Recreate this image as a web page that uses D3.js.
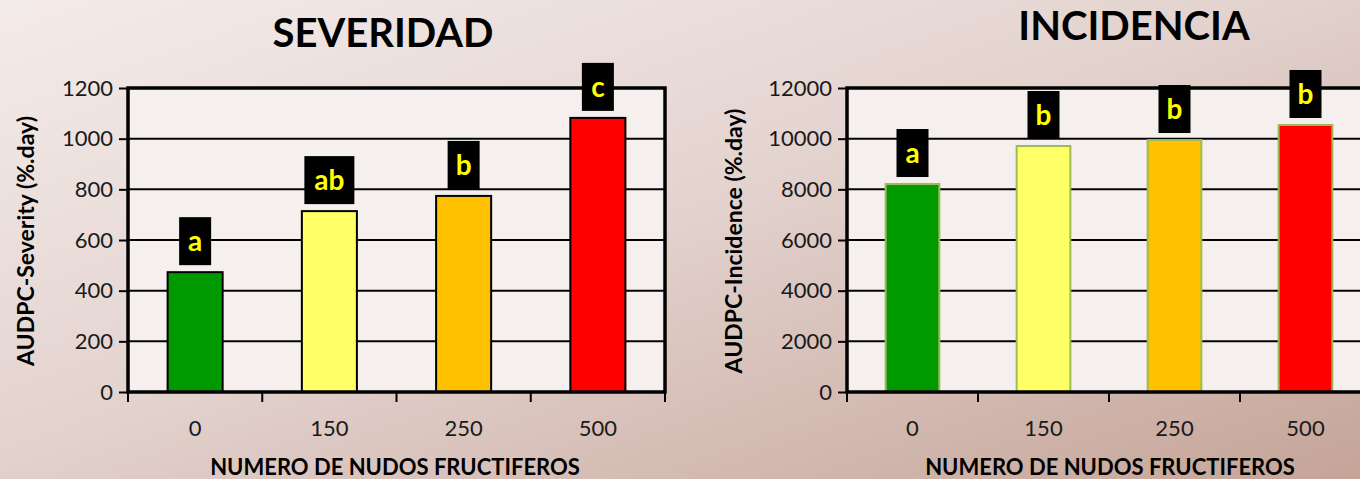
<!DOCTYPE html>
<html>
<head>
<meta charset="utf-8">
<script src="https://cdn.jsdelivr.net/npm/d3@7"></script>
<style>
  body { margin: 0; overflow: hidden; }
  svg { display: block; }
</style>
</head>
<body>
<script>
var categories = ["0", "150", "250", "500"];
var severity = [473, 714, 774, 1082];
var incidence = [8210, 9710, 9947, 10540];
var sevLetters = ["a", "ab", "b", "c"];
var incLetters = ["a", "b", "b", "b"];
var sevTicks = [0, 200, 400, 600, 800, 1000, 1200];
var incTicks = [0, 2000, 4000, 6000, 8000, 10000, 12000];
var barColors = ["#009900", "#ffff66", "#ffc000", "#ff0000"];

var w = 1360, h = 479;
var font = "Lato, 'Open Sans', sans-serif";

var svg = d3.select("body").append("svg")
    .attr("width", w)
    .attr("height", h);

var defs = svg.append("defs");
var grad = defs.append("linearGradient")
    .attr("id", "bg")
    .attr("x1", "0%").attr("y1", "0%")
    .attr("x2", "100%").attr("y2", "100%");
grad.append("stop").attr("offset", "0%").attr("stop-color", "#f4ecea");
grad.append("stop").attr("offset", "45%").attr("stop-color", "#e4d4d0");
grad.append("stop").attr("offset", "100%").attr("stop-color", "#c5a498");

svg.append("rect")
    .attr("width", w).attr("height", h)
    .attr("fill", "url(#bg)");

function drawChart(opt) {
    var g = svg.append("g");
    var x = d3.scaleBand()
        .domain(categories)
        .range([opt.left, opt.right])
        .paddingInner(0.59)
        .paddingOuter(0.295);
    var xb = d3.scaleBand()
        .domain(categories)
        .range([opt.left, opt.right]);
    var y = d3.scaleLinear()
        .domain([0, opt.max])
        .range([392, 88]);

    // plot area
    g.append("rect")
        .attr("x", opt.left).attr("y", 88)
        .attr("width", opt.right - opt.left).attr("height", 304)
        .attr("fill", "#f5f0ee");

    // gridlines
    g.selectAll(".grid")
        .data(opt.ticks.slice(1))
        .enter().append("line")
        .attr("x1", opt.left).attr("x2", opt.right)
        .attr("y1", function(d) { return y(d); })
        .attr("y2", function(d) { return y(d); })
        .attr("stroke", "#000")
        .attr("stroke-width", 2);

    // bars
    g.selectAll(".bar")
        .data(opt.values)
        .enter().append("rect")
        .attr("x", function(d, i) { return x(categories[i]); })
        .attr("y", function(d) { return y(d); })
        .attr("width", x.bandwidth())
        .attr("height", function(d) { return y(0) - y(d); })
        .attr("fill", function(d, i) { return barColors[i]; })
        .attr("stroke", opt.barStroke)
        .attr("stroke-width", 2);

    // plot border
    g.append("rect")
        .attr("x", opt.left).attr("y", 88)
        .attr("width", opt.right - opt.left).attr("height", 304)
        .attr("fill", "none")
        .attr("stroke", "#000")
        .attr("stroke-width", 3.5);

    // y axis
    var yAxis = g.append("g")
        .attr("transform", "translate(" + opt.left + ",0)")
        .call(d3.axisLeft(y).tickValues(opt.ticks).tickFormat(d3.format("d"))
            .tickSize(9).tickPadding(6));
    yAxis.select(".domain").remove();
    yAxis.selectAll(".tick line").attr("stroke-width", 2);
    yAxis.selectAll("text")
        .attr("font-family", font)
        .attr("font-size", "22px")
        .attr("fill", "#1a1a1a");

    // x axis ticks at category boundaries
    var xAxis = g.append("g")
        .attr("transform", "translate(0,392)");
    xAxis.selectAll("line")
        .data(d3.range(categories.length + 1))
        .enter().append("line")
        .attr("x1", function(i) { return opt.left + i * xb.step(); })
        .attr("x2", function(i) { return opt.left + i * xb.step(); })
        .attr("y1", 0).attr("y2", 10)
        .attr("stroke", "#000").attr("stroke-width", 2);
    xAxis.selectAll("text")
        .data(categories)
        .enter().append("text")
        .attr("x", function(d) { return xb(d) + xb.bandwidth() / 2; })
        .attr("y", 44)
        .attr("text-anchor", "middle")
        .attr("font-family", font)
        .attr("font-size", "22px")
        .attr("fill", "#1a1a1a")
        .text(function(d) { return d; });

    // letter labels
    var lab = g.selectAll(".lab")
        .data(opt.values)
        .enter().append("g")
        .attr("transform", function(d, i) {
            return "translate(" + (xb(categories[i]) + xb.bandwidth() / 2) + "," + (y(d) - 7) + ")";
        });
    lab.append("rect")
        .attr("x", function(d, i) { return opt.letters[i].length > 1 ? -25 : -16; })
        .attr("y", -48)
        .attr("width", function(d, i) { return opt.letters[i].length > 1 ? 50 : 32; })
        .attr("height", 48)
        .attr("fill", "#000");
    lab.append("text")
        .attr("y", -14)
        .attr("text-anchor", "middle")
        .attr("font-family", font)
        .attr("font-weight", "bold")
        .attr("font-size", "28px")
        .attr("fill", "#ffff00")
        .text(function(d, i) { return opt.letters[i]; });

    // titles
    svg.append("text")
        .attr("x", opt.titleX).attr("y", opt.titleY)
        .attr("text-anchor", "middle")
        .attr("font-family", font)
        .attr("font-weight", "bold")
        .attr("font-size", "40px")
        .attr("fill", "#000")
        .text(opt.title);

    svg.append("text")
        .attr("transform", "translate(" + opt.yTitleX + ",241) rotate(-90)")
        .attr("text-anchor", "middle")
        .attr("font-family", font)
        .attr("font-weight", "bold")
        .attr("font-size", "23px")
        .attr("fill", "#000")
        .text(opt.yTitle);

    svg.append("text")
        .attr("x", opt.xTitleX).attr("y", 475)
        .attr("text-anchor", "middle")
        .attr("font-family", font)
        .attr("font-weight", "bold")
        .attr("font-size", "22px")
        .attr("fill", "#000")
        .text("NUMERO DE NUDOS FRUCTIFEROS");
}

drawChart({
    left: 128, right: 665, max: 1200,
    values: severity, letters: sevLetters, ticks: sevTicks,
    barStroke: "#000",
    title: "SEVERIDAD", titleX: 383, titleY: 47,
    yTitleX: 34, yTitle: "AUDPC-Severity (%.day)",
    xTitleX: 395
});

drawChart({
    left: 847, right: 1371, max: 12000,
    values: incidence, letters: incLetters, ticks: incTicks,
    barStroke: "#9bbb59",
    title: "INCIDENCIA", titleX: 1134, titleY: 40,
    yTitleX: 742, yTitle: "AUDPC-Incidence (%.day)",
    xTitleX: 1110
});
</script>
</body>
</html>
